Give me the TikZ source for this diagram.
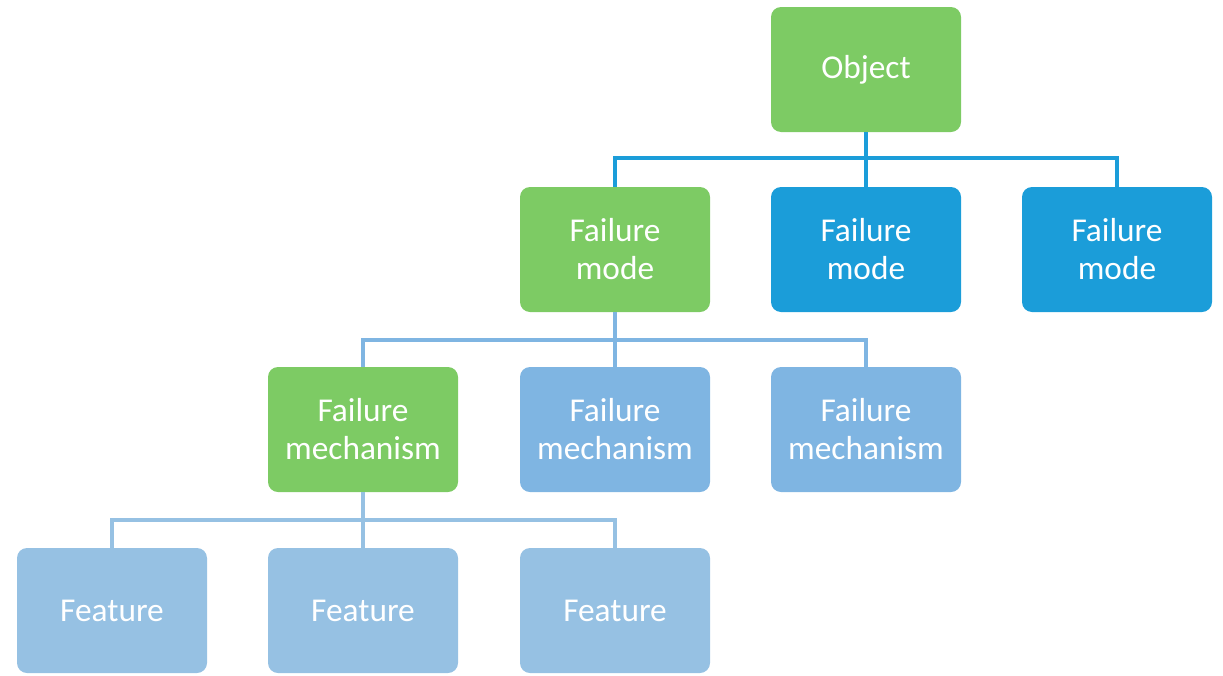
\documentclass[tikz,border=0pt]{standalone}
\usepackage{fontspec}
\setmainfont{Carlito}
\definecolor{cgreen}{HTML}{7DCB64}
\definecolor{cdark}{HTML}{1B9DD9}
\definecolor{cmid}{HTML}{7FB5E2}
\definecolor{clight}{HTML}{96C1E3}
\tikzset{
  box/.style={rounded corners=7.5pt, minimum width=142.5pt, minimum height=93.75pt, inner sep=0pt,
    text=white, align=center, font=\fontsize{25}{28.5}\selectfont},
  gbox/.style={box, fill=cgreen},
  dbox/.style={box, fill=cdark},
  mbox/.style={box, fill=cmid},
  lbox/.style={box, fill=clight},
  conn/.style={line width=2.4pt}
}
\begin{document}
\begin{tikzpicture}[x=0.75pt,y=-0.75pt]
\useasboundingbox (0,0) rectangle (1223,675);
% row 1
\node[gbox] (obj) at (866,69.5) {Object};
% row 2
\node[gbox] (fm1) at (615,249.5) {Failure\\mode};
\node[dbox] (fm2) at (866,249.5) {Failure\\mode};
\node[dbox] (fm3) at (1117,249.5) {Failure\\mode};
% row 3
\node[gbox] (me1) at (363,429.5) {Failure\\mechanism};
\node[mbox] (me2) at (615,429.5) {Failure\\mechanism};
\node[mbox] (me3) at (866,429.5) {Failure\\mechanism};
% row 4
\node[lbox] (fe1) at (112,610.5) {Feature};
\node[lbox] (fe2) at (363,610.5) {Feature};
\node[lbox] (fe3) at (615,610.5) {Feature};
% connectors
\coordinate (j1) at (866,158);
\coordinate (j2) at (615,340);
\coordinate (j3) at (363,520);
\draw[conn, cdark] (obj.south) -- (fm2.north);
\draw[conn, cdark] (fm1.north) |- (j1) -| (fm3.north);
\draw[conn, cmid] (fm1.south) -- (me2.north);
\draw[conn, cmid] (me1.north) |- (j2) -| (me3.north);
\draw[conn, clight] (me1.south) -- (fe2.north);
\draw[conn, clight] (fe1.north) |- (j3) -| (fe3.north);
\end{tikzpicture}
\end{document}
